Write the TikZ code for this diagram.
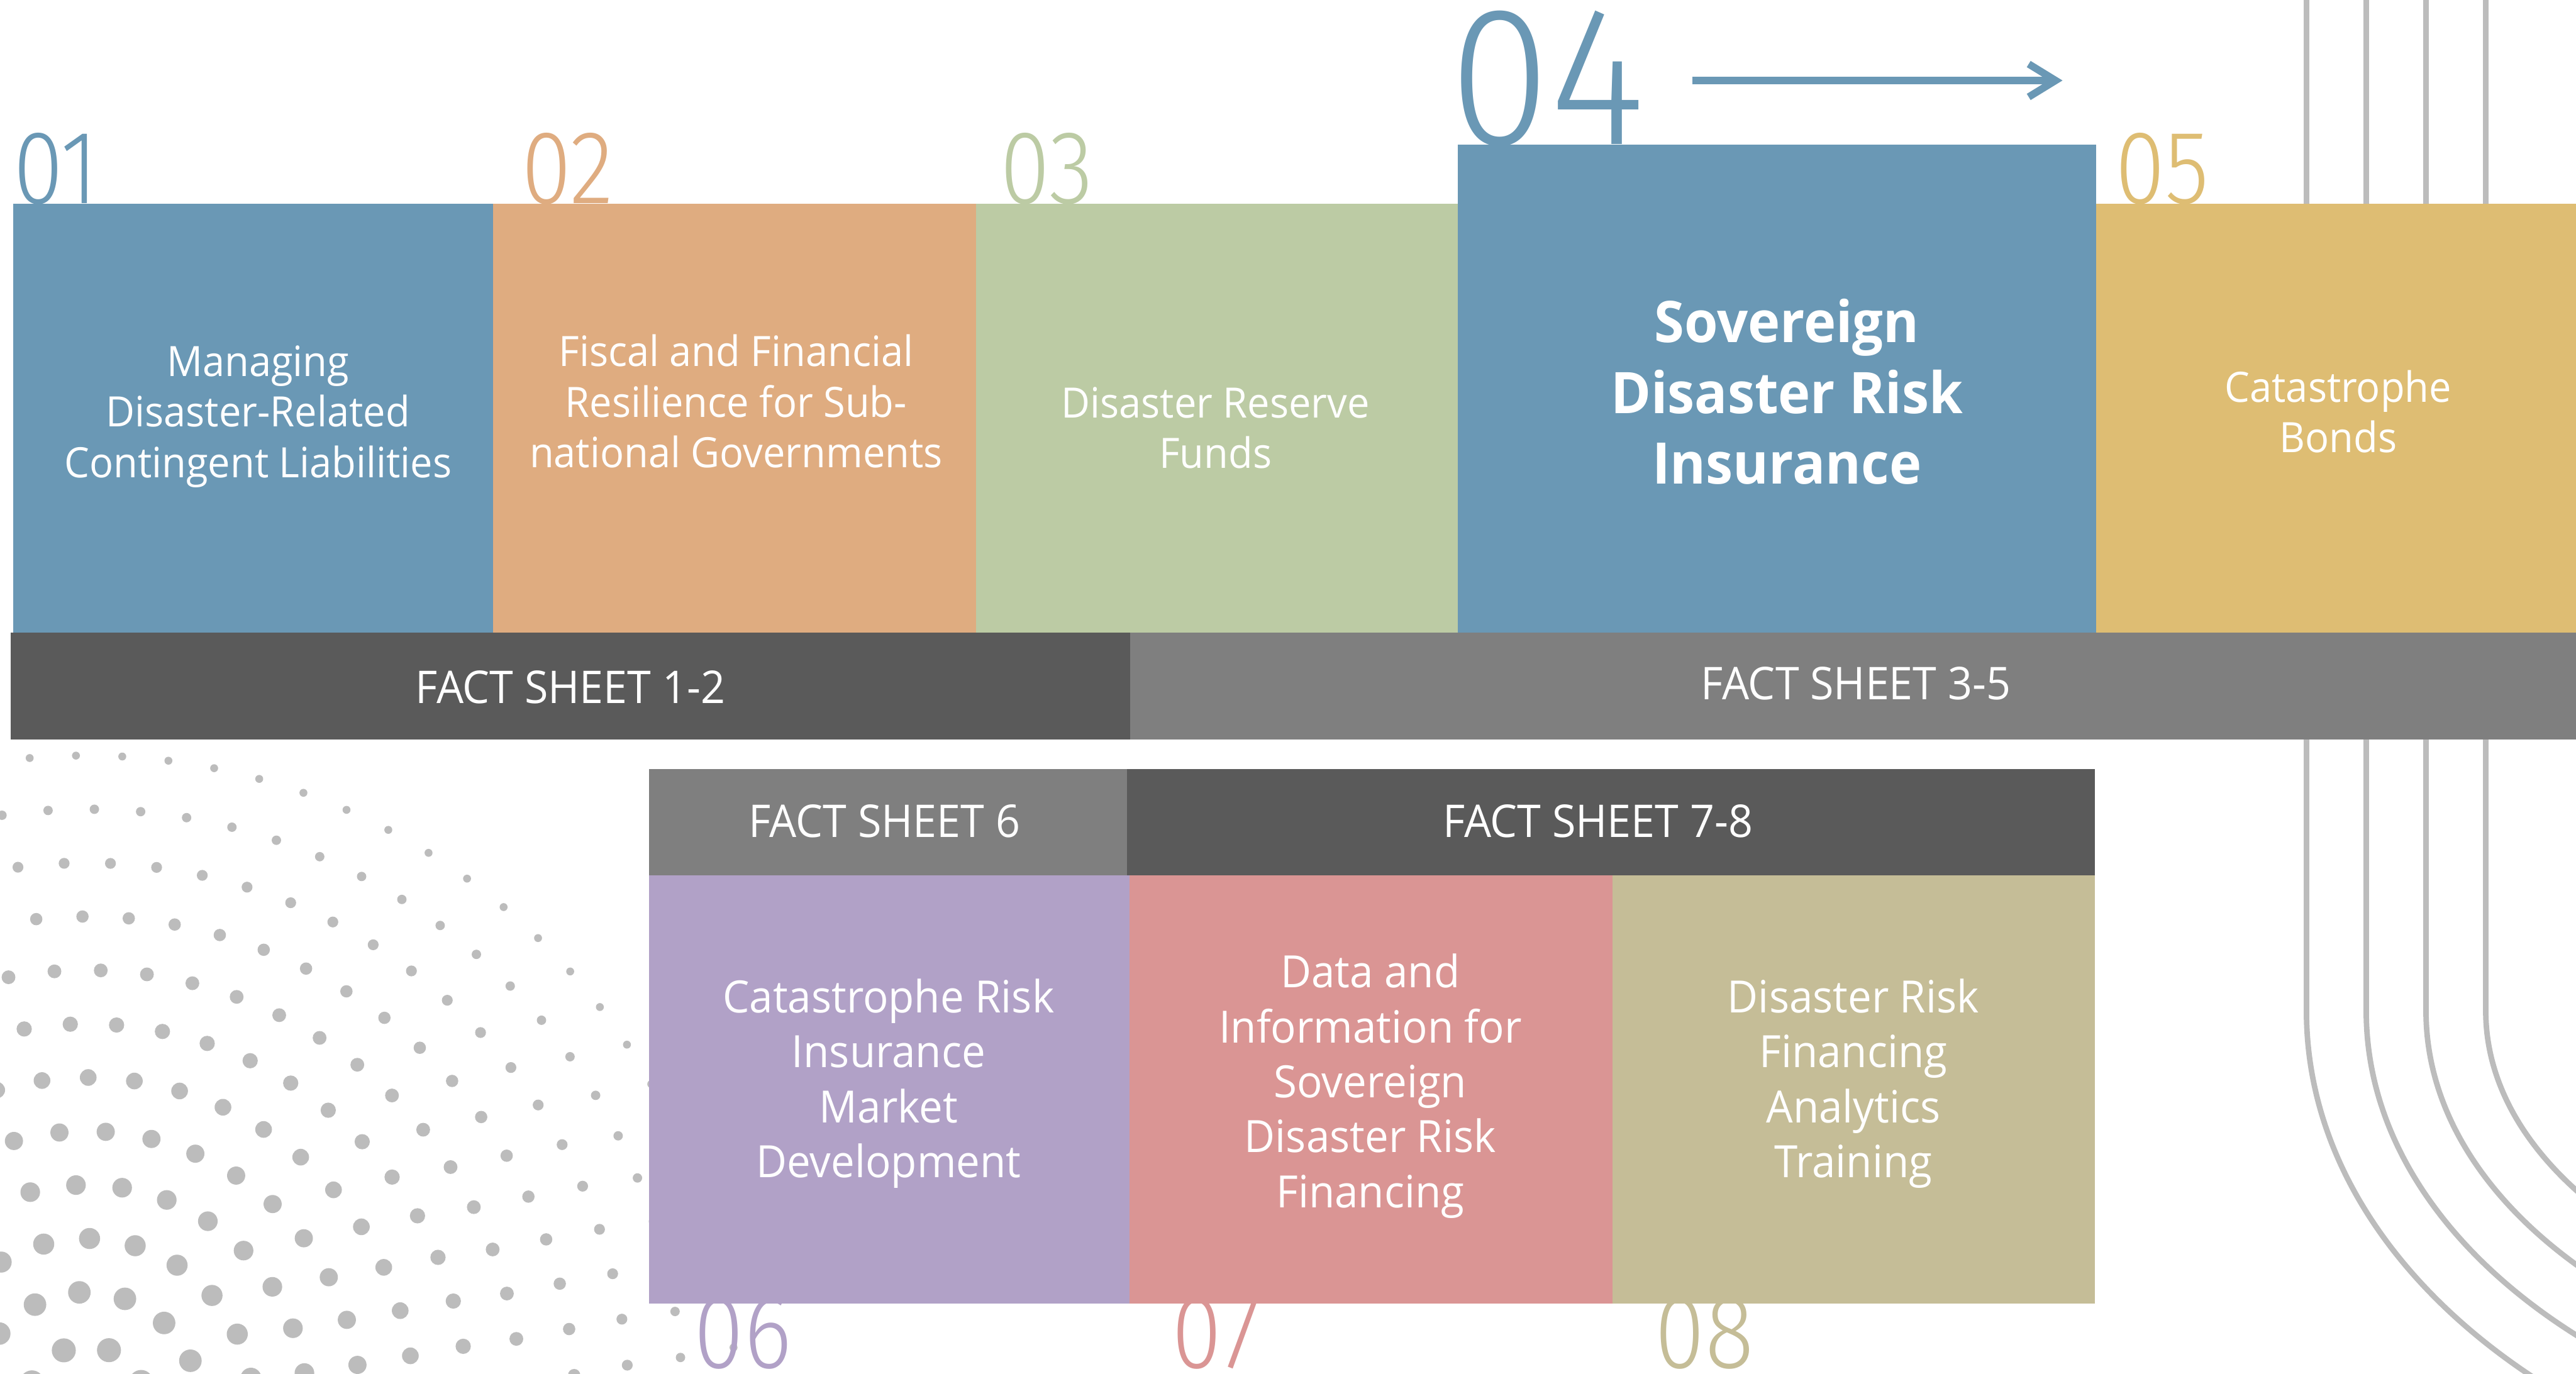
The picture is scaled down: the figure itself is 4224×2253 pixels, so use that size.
\documentclass[tikz,border=0pt]{standalone}
\usepackage{fontspec}
\setmainfont{Open Sans}
\newfontfamily\bodyfont{Open Sans}[FakeStretch=0.95]
\newfontfamily\numfont{Fira Sans Light}[FakeStretch=0.87]
\newfontfamily\bignumfont{Fira Sans Light}[FakeStretch=0.93]
\usetikzlibrary{arrows.meta}

\definecolor{boxblue}{HTML}{6A98B5}
\definecolor{boxorange}{HTML}{DFAC80}
\definecolor{boxgreen}{HTML}{BCCBA4}
\definecolor{boxgold}{HTML}{DEBD73}
\definecolor{boxpurple}{HTML}{B1A1C7}
\definecolor{boxpink}{HTML}{DA9594}
\definecolor{boxkhaki}{HTML}{C5BD97}
\definecolor{bardark}{HTML}{5A5A5A}
\definecolor{bargray}{HTML}{7F7F7F}
\definecolor{decogray}{HTML}{BCBCBC}

\begin{document}
\begin{tikzpicture}[x=1pt,y=-1pt,
  % multi-line labels are anchored at the baseline of their last line
  lbl/.style={text=white, align=center, anchor=base, inner sep=0pt},
  toptext/.style={lbl, font=\bodyfont\fontsize{68.6}{83}\selectfont},
  boldtext/.style={lbl, font=\bodyfont\bfseries\fontsize{94}{116}\selectfont},
  lowtext/.style={lbl, font=\bodyfont\fontsize{73}{90}\selectfont},
  barlabel/.style={lbl, font=\bodyfont\fontsize{74}{88}\selectfont},
  num/.style={anchor=base west, inner sep=0pt, font=\numfont\fontsize{171}{171}\selectfont},
  bignum/.style={anchor=base west, inner sep=0pt, font=\bignumfont\fontsize{324}{324}\selectfont},
  curve/.style={draw=decogray, line width=9pt}
]
\useasboundingbox (0,0) rectangle (4224,2253);
\fill[white] (0,0) rectangle (4224,2253);

% concentric rails on the right
\foreach \i in {0,1,2,3} {
  \pgfmathsetmacro\xs{3782+98*\i}
  \pgfmathsetmacro\ax{1200-98*\i}
  \pgfmathsetmacro\by{830-98*\i}
  \draw[curve] (\xs,-20) -- (\xs,1658)
    arc[start angle=180, end angle=270, x radius=\ax pt, y radius=\by pt];
}

% halftone dot field, lower left
\begin{scope}
\clip (0,1213) rectangle (4224,2253);
\foreach \k/\ph in {0/0.15,1/0.55,2/0.9,3/0.3,4/0.7,5/0.05,6/0.45,7/0.85,8/0.25,9/0.65,10/0.1,11/0.5} {
  \pgfmathsetmacro\R{1065-88*\k}
  \pgfmathsetmacro\dth{4354.4/\R}
  \pgfmathsetmacro\thmin{asin(30/\R)}
  \pgfmathsetmacro\thmax{acos(max(-1,-180/\R))}
  \pgfmathsetmacro\rr{21-14.5*\R/1065}
  \pgfmathtruncatemacro\nn{(\thmax-\thmin)/\dth}
  \foreach \j in {0,...,\nn} {
    \pgfmathsetmacro\th{\thmax-(\j+\ph)*\dth}
    \fill[decogray] ({142+\R*cos(\th)},{2304-\R*sin(\th)}) circle[radius=\rr pt];
  }
}
\end{scope}

% section numbers, partly hidden by the boxes
\node[num, text=boxblue]   (n1) at (22,334)   {01};
\node[num, text=boxorange] (n2) at (855,334)  {02};
\node[num, text=boxgreen]  (n3) at (1640,334) {03};
\node[bignum, text=boxblue] (n4) at (2376,237) {04};
\node[num, text=boxgold]   (n5) at (3468,334) {05};
\node[num, text=boxpurple] (n6) at (1138,2243) {06};
\node[num, text=boxpink]   (n7) at (1922,2243) {07};
\node[num, text=boxkhaki]  (n8) at (2714,2243) {08};

% upper row of boxes
\fill[boxblue]   (22,334)   rectangle (808,1037);
\fill[boxorange] (808,334)  rectangle (1600,1037);
\fill[boxgreen]  (1600,334) rectangle (2390,1037);
\fill[boxblue]   (2390,237) rectangle (3437,1037);
\fill[boxgold]   (3437,334) rectangle (4224,1037);

% fact sheet bars
\fill[bardark] (18,1037)   rectangle (1853,1213);
\fill[bargray] (1853,1037) rectangle (4224,1213);
\fill[bargray] (1064,1261) rectangle (1848,1436);
\fill[bardark] (1848,1261) rectangle (3435,1436);

% lower row of boxes
\fill[boxpurple] (1064,1436) rectangle (1852,2138);
\fill[boxpink]   (1852,1436) rectangle (2644,2138);
\fill[boxkhaki]  (2644,1436) rectangle (3435,2138);

% labels
\node[toptext]  (t1) at (423,783)  {Managing\\Disaster-Related\\Contingent Liabilities};
\node[toptext]  (t2) at (1207,767) {Fiscal and Financial\\Resilience for Sub-\\national Governments};
\node[toptext]  (t3) at (1993,768) {Disaster Reserve\\Funds};
\node[boldtext] (t4) at (2930,794) {Sovereign\\Disaster Risk\\Insurance};
\node[toptext]  (t5) at (3834,742) {Catastrophe\\Bonds};

\node[barlabel] (f12) at (935,1153)  {FACT SHEET 1-2};
\node[barlabel] (f35) at (3043,1147) {FACT SHEET 3-5};
\node[barlabel] (f6)  at (1450,1373) {FACT SHEET 6};
\node[barlabel] (f78) at (2620,1373) {FACT SHEET 7-8};

\node[lowtext] (t6) at (1457,1931) {Catastrophe Risk\\Insurance\\Market\\Development};
\node[lowtext] (t7) at (2247,1980) {Data and\\Information for\\Sovereign\\Disaster Risk\\Financing};
\node[lowtext] (t8) at (3039,1931) {Disaster Risk\\Financing\\Analytics\\Training};

% arrow beside the large number
\coordinate (arrS) at (2775,132);
\coordinate (arrE) at (3382,132);
\draw[boxblue, line width=12pt, -{Straight Barb[length=44pt,width=54pt]}] (arrS) -- (arrE);
\end{tikzpicture}
\end{document}
